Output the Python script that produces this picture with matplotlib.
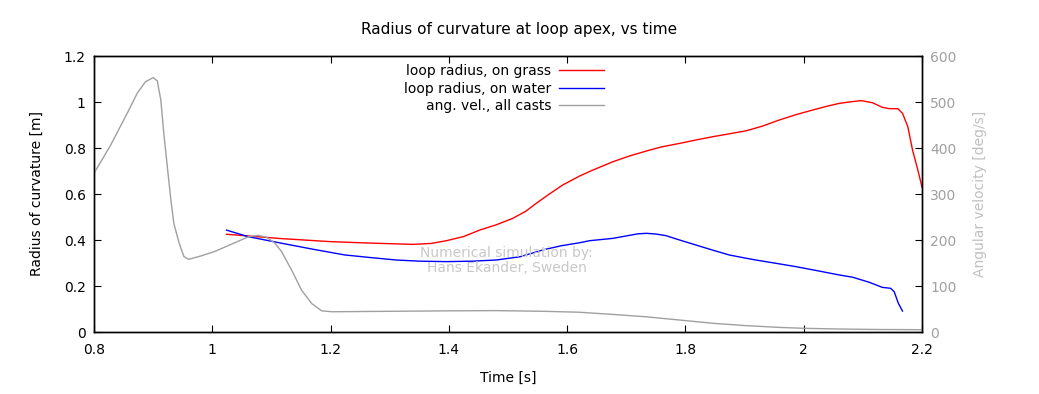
"""
Radius of curvature at loop apex vs time, with angular velocity on a second axis.
"""

import matplotlib
matplotlib.use("Agg")
import matplotlib.pyplot as plt

# loop radius, on grass [m]
t_grass = [1.024, 1.117, 1.199, 1.25, 1.30, 1.339, 1.37, 1.396, 1.425, 1.452,
           1.48, 1.508, 1.53, 1.548, 1.57, 1.593, 1.621, 1.638, 1.677, 1.705,
           1.734, 1.76, 1.79, 1.82, 1.846, 1.875, 1.903, 1.93, 1.959, 1.987,
           2.015, 2.04, 2.06, 2.077, 2.097, 2.116, 2.133, 2.145, 2.159, 2.167,
           2.176, 2.184, 2.193, 2.2]
r_grass = [0.425, 0.406, 0.393, 0.388, 0.384, 0.381, 0.385, 0.397, 0.415, 0.443,
           0.466, 0.494, 0.525, 0.56, 0.60, 0.64, 0.678, 0.698, 0.74, 0.765,
           0.787, 0.805, 0.82, 0.836, 0.849, 0.862, 0.875, 0.895, 0.922, 0.945,
           0.965, 0.982, 0.994, 1.0, 1.006, 0.997, 0.977, 0.971, 0.971, 0.951,
           0.893, 0.791, 0.704, 0.63]

# loop radius, on water [m]
t_water = [1.024, 1.06, 1.117, 1.17, 1.224, 1.27, 1.311, 1.35, 1.396, 1.44,
           1.48, 1.52, 1.54, 1.559, 1.59, 1.621, 1.638, 1.677, 1.705, 1.72,
           1.734, 1.75, 1.767, 1.79, 1.818, 1.846, 1.874, 1.9, 1.919, 1.95,
           1.987, 2.02, 2.06, 2.083, 2.111, 2.133, 2.147, 2.153, 2.16, 2.167]
r_water = [0.443, 0.415, 0.386, 0.36, 0.335, 0.323, 0.313, 0.308, 0.306, 0.308,
           0.313, 0.327, 0.342, 0.357, 0.375, 0.388, 0.397, 0.407, 0.42, 0.427,
           0.429, 0.426, 0.419, 0.40, 0.378, 0.356, 0.335, 0.322, 0.313, 0.30,
           0.284, 0.268, 0.248, 0.238, 0.216, 0.194, 0.19, 0.175, 0.125, 0.091]

# angular velocity, all casts [deg/s]
t_ang = [0.80, 0.828, 0.856, 0.873, 0.887, 0.90, 0.907, 0.913, 0.918, 0.924,
         0.930, 0.935, 0.944, 0.952, 0.960, 0.98, 1.004, 1.038, 1.061, 1.078,
         1.092, 1.106, 1.117, 1.134, 1.151, 1.168, 1.185, 1.202, 1.30, 1.40,
         1.48, 1.56, 1.62, 1.68, 1.734, 1.79, 1.846, 1.90, 1.959, 2.0,
         2.06, 2.12, 2.2]
w_ang = [345, 406, 475, 519, 544, 553, 546, 504, 432, 359,
         287, 236, 193, 164, 158, 165, 175, 194, 207, 210,
         206, 193, 175, 135, 91, 62, 46, 44, 45, 46,
         46.5, 45, 43, 38, 33, 26, 19, 14, 10, 8,
         6.5, 5.5, 5]

x_ticks = [0.8, 1.0, 1.2, 1.4, 1.6, 1.8, 2.0, 2.2]
x_labels = ["0.8", "1", "1.2", "1.4", "1.6", "1.8", "2", "2.2"]
y_ticks = [0, 0.2, 0.4, 0.6, 0.8, 1.0, 1.2]
y_labels = ["0", "0.2", "0.4", "0.6", "0.8", "1", "1.2"]
y2_ticks = [0, 100, 200, 300, 400, 500, 600]

plt.rcParams["font.family"] = ["DejaVu Sans"]
fig = plt.figure(figsize=(10.39, 3.94), dpi=100)
ax = fig.add_axes([94 / 1039, 62 / 394, 828 / 1039, 276 / 394])
ax2 = ax.twinx()

ax.plot(t_grass, r_grass, color="#ff0000", linewidth=1.0, label="loop radius, on grass")
ax.plot(t_water, r_water, color="#0000ff", linewidth=1.0, label="loop radius, on water")
ax2.plot(t_ang, w_ang, color="#a0a0a0", linewidth=1.0, label="ang. vel., all casts")

ax.set_xlim(0.8, 2.2)
ax.set_ylim(0, 1.2)
ax2.set_ylim(0, 600)

ax.set_xticks(x_ticks)
ax.set_xticklabels(x_labels)
ax.set_yticks(y_ticks)
ax.set_yticklabels(y_labels)
ax2.set_yticks(y2_ticks)
ax2.set_yticklabels([str(v) for v in y2_ticks])

ax.tick_params(axis="x", direction="in", top=True, length=5, labelsize=10, pad=8)
ax.tick_params(axis="y", direction="in", right=False, length=5, labelsize=10, pad=6)
ax2.tick_params(axis="y", direction="in", length=5, labelsize=10, pad=6,
                labelcolor="#a0a0a0")
for a in (ax, ax2):
    for sp in a.spines.values():
        sp.set_linewidth(1.0)

ax.set_xlabel("Time [s]", fontsize=10, labelpad=10)
ax.set_ylabel("Radius of curvature [m]", fontsize=10, labelpad=14)
ax2.set_ylabel("Angular velocity [deg/s]", fontsize=10, color="#c0c0c0", labelpad=12)
fig.suptitle("Radius of curvature at loop apex, vs time", fontsize=11, y=0.945)

ax.text(1.498, 0.31, "Numerical simulation by:\nHans Ekander, Sweden",
        ha="center", va="center", fontsize=10, color="#c8c8c8", linespacing=1.1)

h1, l1 = ax.get_legend_handles_labels()
h2, l2 = ax2.get_legend_handles_labels()
ax2.legend(h1 + h2, l1 + l2, loc="upper center", bbox_to_anchor=(0.495, 1.0),
           frameon=False, markerfirst=False, fontsize=10, handlelength=3.2,
           labelspacing=0.25, borderaxespad=0.2, handletextpad=0.6)

fig.savefig("out.png", dpi=100)
